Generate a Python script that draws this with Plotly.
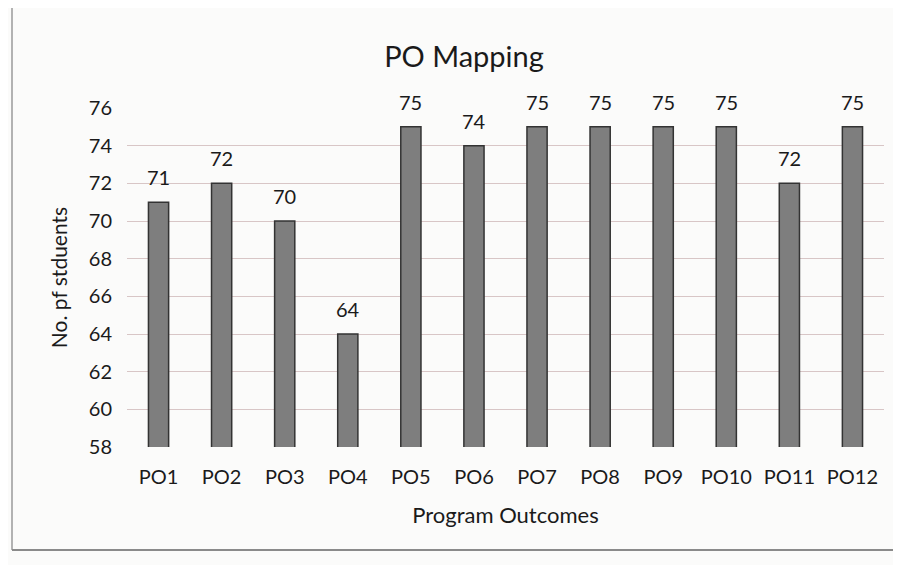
import plotly.graph_objects as go

categories = ["PO1", "PO2", "PO3", "PO4", "PO5", "PO6", "PO7", "PO8", "PO9", "PO10", "PO11", "PO12"]
students = [71, 72, 70, 64, 75, 74, 75, 75, 75, 75, 72, 75]
y_ticks = [58, 60, 62, 64, 66, 68, 70, 72, 74, 76]

FONT = "Lato, 'Open Sans', sans-serif"

fig = go.Figure(go.Bar(
    x=categories, y=students,
    marker=dict(color="#7e7e7e", line=dict(color="#333333", width=1.5)),
    cliponaxis=False,
))

# value labels placed on the data coordinates of each bar
for c, v in zip(categories, students):
    fig.add_annotation(x=c, y=v, text=str(v), showarrow=False, yanchor="bottom",
                       yshift=11, font=dict(size=20, color="#1a1a1a", family=FONT))

# page has an 8px body offset; coordinates below are in figure pixels
W, H = 901, 565
L, R, T, B = 119, 25, 100, 126
pw, ph = W - L - R, H - T - B

def px(xp):
    return (xp - L) / pw

def py(yp):
    return (H - B - yp) / ph

fig.update_layout(
    width=W, height=H,
    margin=dict(l=L, r=R, t=T, b=B),
    paper_bgcolor="#fbfbfa", plot_bgcolor="#fbfbfa",
    bargap=0.68,
    showlegend=False,
    font=dict(family=FONT, color="#1a1a1a"),
    title=dict(text="PO Mapping", xref="container", x=(464 - 8) / W, xanchor="center",
               y=1 - 49 / H, yanchor="middle",
               font=dict(size=29, family=FONT, color="#1a1a1a")),
    xaxis=dict(tickfont=dict(size=20), showgrid=False, showline=False, ticks="",
               ticklabelstandoff=16,
               title=dict(text="Program Outcomes", font=dict(size=22), standoff=20)),
    yaxis=dict(range=[58, 76], tickvals=y_ticks, tickfont=dict(size=20),
               gridcolor="#d8c6c6", gridwidth=1, zeroline=False, showline=False,
               ticks="", ticklabelstandoff=14,
               title=dict(text="No. pf stduents", font=dict(size=21), standoff=15)),
    shapes=[
        dict(type="line", xref="paper", yref="paper", x0=px(4), x1=px(4), y0=py(0), y1=py(542),
             line=dict(color="#9a9a9a", width=1.5)),
        dict(type="line", xref="paper", yref="paper", x0=px(4), x1=px(901), y0=py(542), y1=py(542),
             line=dict(color="#8a8a8a", width=2)),
    ],
)

fig.write_html("out.html")
